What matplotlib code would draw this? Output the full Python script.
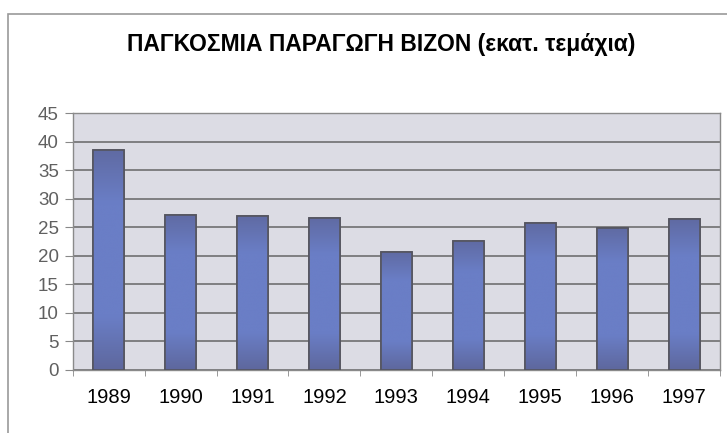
import numpy as np
import matplotlib.pyplot as plt
from matplotlib.patches import Rectangle

plt.rcParams['font.family'] = ['Liberation Sans', 'DejaVu Sans']

# ── Data ──────────────────────────────────────────────────────────────────
years = ['1989', '1990', '1991', '1992', '1993', '1994', '1995', '1996', '1997']
production = [38.6, 27.2, 27.0, 26.7, 20.7, 22.6, 25.8, 24.9, 26.4]
yticks = [0, 5, 10, 15, 20, 25, 30, 35, 40, 45]
title = 'ΠΑΓΚΟΣΜΙΑ ΠΑΡΑΓΩΓΗ ΒΙΖΟΝ (εκατ. τεμάχια)'

# ── Figure ────────────────────────────────────────────────────────────────
fig = plt.figure(figsize=(7.27, 4.33), dpi=100)
ax = fig.add_axes([72.7 / 727, 1 - 370 / 433, (720 - 72.7) / 727, 257 / 433])

# outer chart frame (right/bottom run off the picture)
fig.add_artist(Rectangle((8 / 727, -0.05), 1.2, 1 - 14 / 433 + 0.05,
                         transform=fig.transFigure, fill=False,
                         edgecolor='#9a9a9a', linewidth=1.2))

x = np.arange(len(years))
bars = ax.bar(x, production, width=0.43, color='#6a7cc0',
              edgecolor='#5a5a66', linewidth=1.2, zorder=3)

# vertical gradient inside each bar: darker at top and bottom
grad = np.concatenate([np.linspace(0.25, 1.0, 25), np.ones(50),
                       np.linspace(1.0, 0.35, 25)])[::-1].reshape(-1, 1)
cmap = plt.matplotlib.colors.LinearSegmentedColormap.from_list(
    'bar', ['#5a6090', '#6a7ec6'])
for b in bars:
    x0, y0 = b.get_x(), b.get_y()
    w, h = b.get_width(), b.get_height()
    im = ax.imshow(grad, cmap=cmap, aspect='auto', vmin=0, vmax=1,
                   extent=[x0, x0 + w, y0, y0 + h], zorder=3.5,
                   interpolation='bicubic')
    im.set_clip_path(b)
    ax.add_patch(Rectangle((x0, y0), w, h, fill=False,
                           edgecolor='#55555f', linewidth=1.2, zorder=4))

ax.set_xlim(-0.5, len(years) - 0.5)
ax.set_ylim(0, 45)
ax.set_yticks(yticks)
ax.set_xticks(x)
ax.set_xticklabels(years, fontsize=14.5)
ax.tick_params(axis='x', length=0, pad=13)
ax.set_xticks(np.arange(-0.5, len(years)), minor=True)
ax.tick_params(axis='x', which='minor', length=4, color='#888888',
               direction='out')
ax.tick_params(axis='y', labelsize=13.5, labelcolor='#606060', length=6,
               color='#888888', pad=4)

ax.set_facecolor('#dcdce4')
ax.grid(axis='y', color='#666666', linewidth=1.1, zorder=1)
ax.set_axisbelow(True)
for s in ax.spines.values():
    s.set_color('#8a8a8a')
    s.set_linewidth(1.0)

fig.text(381 / 727, 1 - 44 / 433, title, ha='center', va='center',
         fontsize=16.5, fontweight='bold')

plt.savefig('out.png', dpi=100)
